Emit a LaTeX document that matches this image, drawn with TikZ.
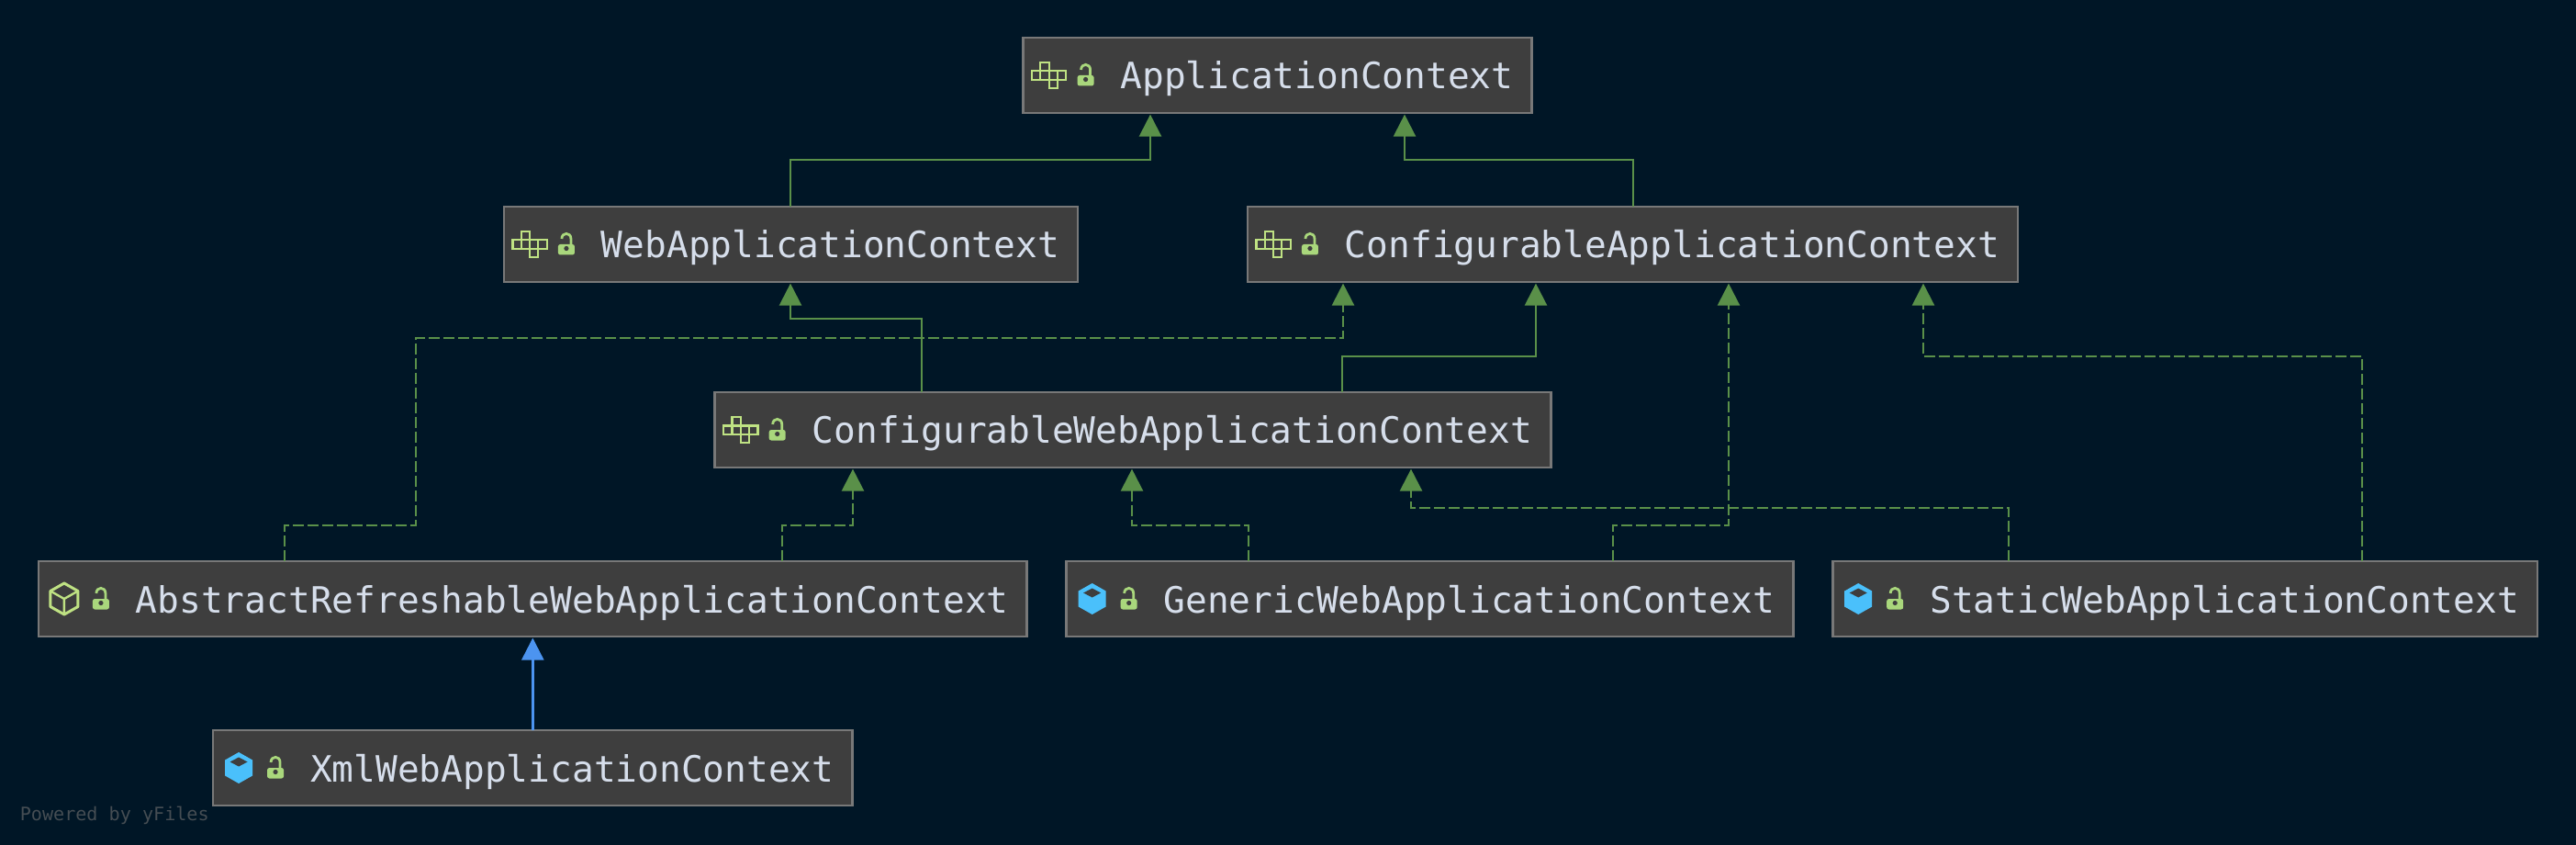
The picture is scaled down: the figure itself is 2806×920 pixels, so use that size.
\documentclass[tikz,border=0pt]{standalone}
\usepackage{fontspec}
\newfontfamily\boxfont{DejaVu Sans Mono}
\usepackage{xcolor}
\definecolor{pagebg}{HTML}{001626}
\definecolor{boxfill}{HTML}{3E3E3E}
\definecolor{boxline}{HTML}{787878}
\definecolor{boxtext}{HTML}{D6DEEB}
\definecolor{extgreen}{HTML}{5A9049}
\definecolor{extblue}{HTML}{4C94F0}
\definecolor{ifacegreen}{HTML}{BFE283}
\definecolor{lockgreen}{HTML}{A9D77C}
\definecolor{classblue}{HTML}{4AC0FB}
\definecolor{yfilesgray}{HTML}{454D53}
\usetikzlibrary{arrows.meta,positioning}
\newcommand{\boxlabel}[1]{\hspace*{21.5pt}#1}
\tikzset{
  classbox/.style={draw=boxline,fill=boxfill,line width=.7pt,outer sep=0pt,inner xsep=5pt,inner ysep=0pt,minimum height=20.5pt,text height=10pt,text depth=2.5pt,text=boxtext,font=\boxfont\fontsize{9.87}{12}\selectfont},
  extends/.style={-{Triangle[length=6pt,width=6pt]},draw=extgreen,line width=.6pt,shorten >=.4pt},
  implements/.style={extends,dash pattern=on 3pt off 1pt},
  subclass/.style={-{Triangle[length=6pt,width=6pt]},draw=extblue,line width=.6pt,shorten >=.4pt},
  ifaceicon/.pic={
    \foreach \cellx/\celly in {0/0,1/0,2/0,3/0,1/-1,2/1}
      \filldraw[draw=ifacegreen,fill=boxfill,line width=.55pt] ({9.5+9.3*\cellx},{-4.6+9.3*\celly}) rectangle ++(9.3,9.3);
  },
  lockicon/.pic={
    \fill[lockgreen,rounded corners=.6pt] (59,0) rectangle (77,11.5);
    \fill[boxfill] (68,4.5) circle (2.6);
    \draw[lockgreen,line width=.7pt] (63,-6) .. controls (63,-13.5) and (73,-13.5) .. (73,-6) -- (73,1);
  },
  abstracticon/.pic={
    \draw[ifacegreen,line width=.75pt,line join=round] (28,-17) -- (43,-8.5) -- (43,8.5) -- (28,17) -- (13,8.5) -- (13,-8.5) -- cycle;
    \draw[ifacegreen,line width=.6pt] (13,-8.5) -- (28,0) -- (43,-8.5) (28,0) -- (28,17);
  },
  classicon/.pic={
    \fill[classblue] (28,-17) -- (43,-8.5) -- (43,8.5) -- (28,17) -- (13,8.5) -- (13,-8.5) -- cycle;
    \fill[boxfill] (18.5,-6.5) -- (28,-11.5) -- (37.5,-6.5) -- (28,-1.5) -- cycle;
  },
}
\begin{document}
\begin{tikzpicture}[x=.25pt,y=-.25pt]
\fill[pagebg] (0,0) rectangle (2806,920);
\useasboundingbox (0,0) rectangle (2806,920);
\node[classbox] (app) at (1391.5,82) {\boxlabel{ApplicationContext}};
\node[classbox,below=25.5pt of app,xshift=-132.5pt] (web) {\boxlabel{WebApplicationContext}};
\node[classbox,below=25.5pt of app,xshift=96.75pt] (config) {\boxlabel{ConfigurableApplicationContext}};
\node[classbox,below=30pt of web,xshift=93.1pt] (confweb) {\boxlabel{ConfigurableWebApplicationContext}};
\node[classbox,below=25.5pt of confweb,xshift=-163.4pt] (abstract) {\boxlabel{AbstractRefreshableWebApplicationContext}};
\node[classbox,right=10.75pt of abstract] (generic) {\boxlabel{GenericWebApplicationContext}};
\node[classbox,right=10.75pt of generic] (static) {\boxlabel{StaticWebApplicationContext}};
\node[classbox,below=25.5pt of abstract] (xml) {\boxlabel{XmlWebApplicationContext}};
% icons
\foreach \boxname in {app,web,config,confweb} \pic at (\boxname.west) {ifaceicon};
\foreach \boxname in {generic,static,xml} \pic at (\boxname.west) {classicon};
\pic at (abstract.west) {abstracticon};
\foreach \boxname in {app,web,config,confweb,abstract,generic,static,xml} \pic at (\boxname.west) {lockicon};
% interfaces
\draw[extends] (web.north -| 861,0) -- (861,174) -- (1253,174) -- (app.south -| 1253,0);
\draw[extends] (config.north -| 1779,0) -- (1779,174) -- (1530,174) -- (app.south -| 1530,0);
\draw[extends] (confweb.north -| 1004,0) -- (1004,347) -- (861,347) -- (web.south -| 861,0);
\draw[extends] (confweb.north -| 1462,0) -- (1462,388) -- (1673,388) -- (config.south -| 1673,0);
% implementations
\draw[implements] (abstract.north -| 310,0) -- (310,572) -- (453,572) -- (453,368) -- (1463,368) -- (config.south -| 1463,0);
\draw[implements] (generic.north -| 1757,0) -- (1757,572) -- (1883,572) -- (config.south -| 1883,0);
\draw[implements] (static.north -| 2573,0) -- (2573,388) -- (2095,388) -- (config.south -| 2095,0);
\draw[implements] (abstract.north -| 852,0) -- (852,572) -- (929,572) -- (confweb.south -| 929,0);
\draw[implements] (generic.north -| 1360,0) -- (1360,572) -- (1233,572) -- (confweb.south -| 1233,0);
\draw[implements] (static.north -| 2188,0) -- (2188,553) -- (1537,553) -- (confweb.south -| 1537,0);
% classes
\draw[subclass] (xml.north) -- (abstract.south);
\node[anchor=west,inner sep=0pt,text=yfilesgray,font=\boxfont\fontsize{5.03}{6}\selectfont] (poweredby) at (21,888) {Powered by yFiles};
\end{tikzpicture}
\end{document}
